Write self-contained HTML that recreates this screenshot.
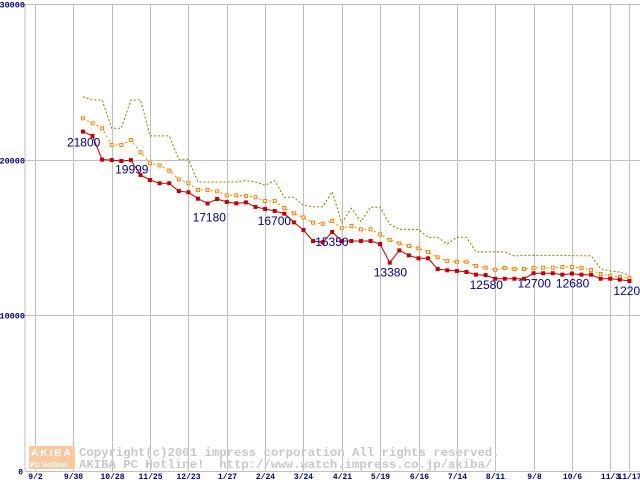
<!DOCTYPE html>
<html><head><meta charset="utf-8"><style>
html,body{margin:0;padding:0;background:#fff;}
svg{display:block;}
</style></head><body>
<svg id="chart" width="640" height="480" viewBox="0 0 640 480" xmlns="http://www.w3.org/2000/svg">
<g id="grid"></g>
<g id="watermark">
<rect x="29" y="446" width="46" height="23" fill="#fbc8a0"/>
<text x="31" y="456" font-family="Liberation Sans, sans-serif" font-weight="bold" font-size="10" fill="#fff" letter-spacing="2">AKIBA</text>
<text x="30" y="467" font-family="Liberation Sans, sans-serif" font-weight="bold" font-size="7" fill="#fff">PC Hotline!</text>
<text x="79" y="456" font-family="Liberation Mono, monospace" font-weight="bold" font-size="12.3" fill="#c8c8c8">Copyright(c)2001 impress corporation All rights reserved.</text>
<text xml:space="preserve" style="white-space:pre" x="79" y="468" font-family="Liberation Mono, monospace" font-weight="bold" font-size="12.3" fill="#c8c8c8">AKIBA PC Hotline!  http://www.watch.impress.co.jp/akiba/</text>
</g>
<g id="series"></g>
<g id="labels"></g>
</svg>
<script>
const yTicks = [0, 10000, 20000, 30000];
const xTickLabels = ["9/2","9/30","10/28","11/25","12/23","1/27","2/24","3/24","4/21","5/19","6/16","7/14","8/11","9/8","10/6","11/3","11/17"];
const xTickDays = [0,28,56,84,112,140,168,196,224,252,280,308,336,364,392,420,434];
const firstPointDay = 35;
const seriesLow = [21800,21520,19999,19970,19910,19970,19010,18690,18480,18480,17980,17900,17490,17180,17470,17280,17190,17250,16960,16830,16700,16530,15970,15480,14770,14690,15350,14770,14770,14770,14770,14580,13380,14170,13850,13660,13660,12970,12890,12850,12780,12610,12580,12350,12350,12350,12350,12700,12700,12700,12610,12680,12610,12610,12350,12350,12290,12200];
const seriesAvg = [22650,22330,22010,20940,20940,21260,20470,19760,19630,19290,18730,18480,18050,18050,17960,17710,17710,17660,17580,17340,17340,16890,16550,16290,15950,15880,16060,15590,15740,15520,15520,15200,14840,14620,14450,14300,14070,13720,13490,13440,13440,13170,13060,12930,13040,12970,12970,13040,13060,13060,13100,13100,13040,12910,12650,12540,12460,12380];
const seriesHigh = [24040,23830,23830,22010,22010,23830,23830,21520,21520,21520,20020,20020,18560,18560,18560,18560,18560,18650,18560,18350,18650,17580,17580,17060,16970,16970,17940,15950,16870,16010,16940,16940,15860,15520,15520,15520,15010,15010,14580,15010,15010,14070,14070,14070,14070,13810,13850,13850,13850,13850,13850,13830,13830,13830,12980,12850,12780,12540];
const labelIdx = [0,2,13,20,26,32,42,47,51,57];
const labelText = ["21800","19999","17180","16700","15350","13380","12580","12700","12680","12200"];
const labelDx = [-16,13,-15,-17,-17,-16,-16,-16,-16,-16];
const labelDy = [15,14,18,14,14,14,14,14,14,14];

const NS = "http://www.w3.org/2000/svg";
const X0 = 35, PX_PER_DAY = 38.35/28, Y0 = 471, PX_PER_UNIT = 155.7/10000;
function xDay(d){ return X0 + d*PX_PER_DAY; }
function xIdx(i){ return xDay(firstPointDay + i*7); }
function yVal(v){ return Y0 - v*PX_PER_UNIT; }
function mk(tag, attrs, parent){ const e=document.createElementNS(NS,tag); for(const k in attrs) e.setAttribute(k,attrs[k]); parent.appendChild(e); return e; }

const grid = document.getElementById('grid');
let ln = mk('line',{x1:25,y1:4,x2:25,y2:Y0,stroke:'#c0c0c0'},grid);


yTicks.forEach(v=>{
  const y = Math.round(yVal(v))+0.5;
  const l = mk('line',{x1:25,y1:y,x2:640,y2:y,stroke:'#c0c0c0'},grid);
  
  
  const t = mk('text',{x:v===0?23:25,y:y+3,'text-anchor':'end','font-family':'Liberation Mono, monospace','font-weight':'bold','font-size':v===0?8:8.5,fill:'#000080'},grid);
  
  
  t.textContent = String(v);
});
xTickDays.forEach((d,i)=>{
  const x = Math.round(xDay(d))+0.5;
  const l = mk('line',{x1:x,y1:4,x2:x,y2:Y0,stroke:'#c0c0c0'},grid);
  
  
  const t = mk('text',{x:x,y:479,'text-anchor':'middle','font-family':'Liberation Mono, monospace','font-weight':'bold','font-size':8,fill:'#000080'},grid);
  
  
  t.textContent = xTickLabels[i];
});

const sg = document.getElementById('series');
function pts(arr){ return arr.map((v,i)=>xIdx(i).toFixed(1)+','+yVal(v).toFixed(1)).join(' '); }
let p = mk('polyline',{points:pts(seriesHigh),fill:'none',stroke:'#808000','stroke-width':1,'stroke-dasharray':'2,2'},sg);


p = mk('polyline',{points:pts(seriesAvg),fill:'none',stroke:'#ff8000','stroke-width':1,'stroke-dasharray':'2,3'},sg);


seriesAvg.forEach((v,i)=>{
  const r = mk('rect',{x:xIdx(i)-1.5,y:yVal(v)-1.5,width:3,height:3,fill:'#fff',stroke:'#ff8000','stroke-width':1},sg);
  
  
});
p = mk('polyline',{points:pts(seriesLow),fill:'none',stroke:'#c00000','stroke-width':1},sg);


seriesLow.forEach((v,i)=>{
  const r = mk('rect',{x:xIdx(i)-2,y:yVal(v)-2,width:4,height:4,fill:'#c00000'},sg);
  
  
});

const lg = document.getElementById('labels');
labelIdx.forEach((idx,k)=>{
  const t = mk('text',{x:xIdx(idx)+labelDx[k],y:yVal(seriesLow[idx])+labelDy[k],'font-family':'Liberation Sans, sans-serif','font-size':12,fill:'#000080'},lg);
  
  
  t.textContent = labelText[k];
});
</script>
</body></html>
